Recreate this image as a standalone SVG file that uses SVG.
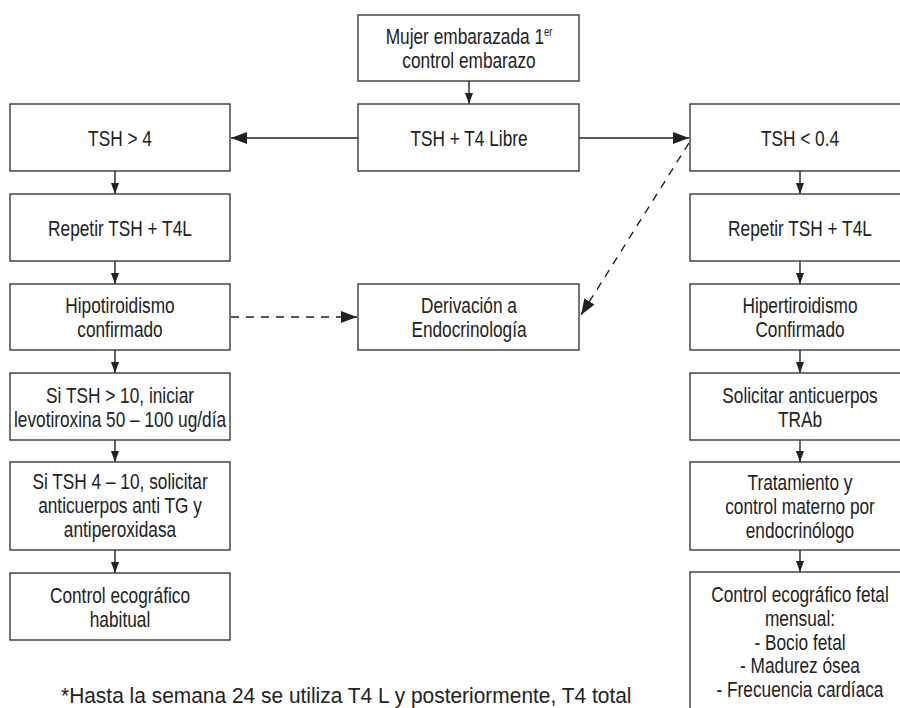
<svg xmlns="http://www.w3.org/2000/svg" width="900" height="708" viewBox="0 0 900 708">
<defs>
<style>
rect.box{fill:#fff;stroke:#3a3a3a;stroke-width:1.4}
text{font-family:"Liberation Sans",Arial,sans-serif;font-size:22px;fill:#222;text-anchor:middle;transform-box:fill-box;transform-origin:50% 50%;transform:scaleX(0.785)}
text.note{font-size:22.5px;text-anchor:start;transform-origin:0% 50%;transform:scaleX(0.93)}
.c{stroke:#222;stroke-width:1.4;fill:none}
.d{stroke-dasharray:8 7}
</style>
<marker id="ah" viewBox="0 0 11 15" refX="15" refY="5.5" markerWidth="15" markerHeight="11" markerUnits="userSpaceOnUse" orient="auto">
<path d="M0,0 L15,5.5 L0,11 z" fill="#222"/>
</marker>
<marker id="ahl" viewBox="0 0 16 12" refX="16" refY="6" markerWidth="16" markerHeight="12" markerUnits="userSpaceOnUse" orient="auto">
<path d="M0,0 L16,6 L0,12 z" fill="#222"/>
</marker>
</defs>
<rect width="900" height="708" fill="#fff"/>
<g id="connectors">
<line class="c" x1="469" y1="81" x2="469" y2="104" marker-end="url(#ah)"/>
<line class="c" x1="358" y1="138" x2="231" y2="138" marker-end="url(#ahl)"/>
<line class="c" x1="579" y1="138" x2="689" y2="138" marker-end="url(#ahl)"/>
<line class="c" x1="115" y1="171" x2="115" y2="194" marker-end="url(#ah)"/>
<line class="c" x1="115" y1="261" x2="115" y2="284" marker-end="url(#ah)"/>
<line class="c" x1="115" y1="350" x2="115" y2="373" marker-end="url(#ah)"/>
<line class="c" x1="115" y1="440" x2="115" y2="462" marker-end="url(#ah)"/>
<line class="c" x1="115" y1="550" x2="115" y2="573" marker-end="url(#ah)"/>
<line class="c" x1="800" y1="171" x2="800" y2="194" marker-end="url(#ah)"/>
<line class="c" x1="800" y1="261" x2="800" y2="284" marker-end="url(#ah)"/>
<line class="c" x1="800" y1="350" x2="800" y2="373" marker-end="url(#ah)"/>
<line class="c" x1="800" y1="440" x2="800" y2="462" marker-end="url(#ah)"/>
<line class="c" x1="800" y1="550" x2="800" y2="572" marker-end="url(#ah)"/>
<line class="c d" x1="231" y1="317" x2="357" y2="317" marker-end="url(#ahl)"/>
<line class="c d" x1="689" y1="143" x2="581" y2="315" marker-end="url(#ahl)"/>
</g>
<g id="n-start"><rect class="box" x="358" y="15" width="221" height="66"/>
<text x="469" y="44">Mujer embarazada 1<tspan font-size="12" dy="-8">er</tspan></text>
<text x="469" y="68">control embarazo</text></g>
<g id="n-test"><rect class="box" x="358" y="104" width="221" height="67"/><text x="469" y="146">TSH + T4 Libre</text></g>
<g id="n-tshhigh"><rect class="box" x="10" y="104" width="220" height="67"/><text x="120" y="146">TSH &gt; 4</text></g>
<g id="n-rep1"><rect class="box" x="10" y="194" width="220" height="67"/><text x="120" y="236">Repetir TSH + T4L</text></g>
<g id="n-hipo"><rect class="box" x="10" y="284" width="220" height="66"/><text x="120" y="313">Hipotiroidismo</text><text x="120" y="337">confirmado</text></g>
<g id="n-levo"><rect class="box" x="10" y="373" width="220" height="67"/><text x="120" y="403">Si TSH &gt; 10, iniciar</text><text x="120" y="427">levotiroxina 50 – 100 ug/día</text></g>
<g id="n-ac"><rect class="box" x="10" y="462" width="220" height="88"/><text x="120" y="489">Si TSH 4 – 10, solicitar</text><text x="120" y="513">anticuerpos anti TG y</text><text x="120" y="537">antiperoxidasa</text></g>
<g id="n-eco1"><rect class="box" x="10" y="573" width="220" height="67"/><text x="120" y="603">Control ecográfico</text><text x="120" y="627">habitual</text></g>
<g id="n-deriv"><rect class="box" x="358" y="284" width="221" height="66"/><text x="469" y="313">Derivación a</text><text x="469" y="337">Endocrinología</text></g>
<g id="n-tshlow"><rect class="box" x="690" y="104" width="220" height="67"/><text x="800" y="146">TSH &lt; 0.4</text></g>
<g id="n-rep2"><rect class="box" x="690" y="194" width="220" height="67"/><text x="800" y="236">Repetir TSH + T4L</text></g>
<g id="n-hiper"><rect class="box" x="690" y="284" width="220" height="66"/><text x="800" y="313">Hipertiroidismo</text><text x="800" y="337">Confirmado</text></g>
<g id="n-trab"><rect class="box" x="690" y="373" width="220" height="67"/><text x="800" y="403">Solicitar anticuerpos</text><text x="800" y="427">TRAb</text></g>
<g id="n-trat"><rect class="box" x="690" y="462" width="220" height="88"/><text x="800" y="490">Tratamiento y</text><text x="800" y="514">control materno por</text><text x="800" y="538">endocrinólogo</text></g>
<g id="n-eco2"><rect class="box" x="690" y="572" width="220" height="160"/><text x="800" y="602">Control ecográfico fetal</text><text x="800" y="626">mensual:</text><text x="800" y="650">- Bocio fetal</text><text x="800" y="673">- Madurez ósea</text><text x="800" y="697">- Frecuencia cardíaca</text></g>
<text class="note" x="61" y="703">*Hasta la semana 24 se utiliza T4 L y posteriormente, T4 total</text>
</svg>
